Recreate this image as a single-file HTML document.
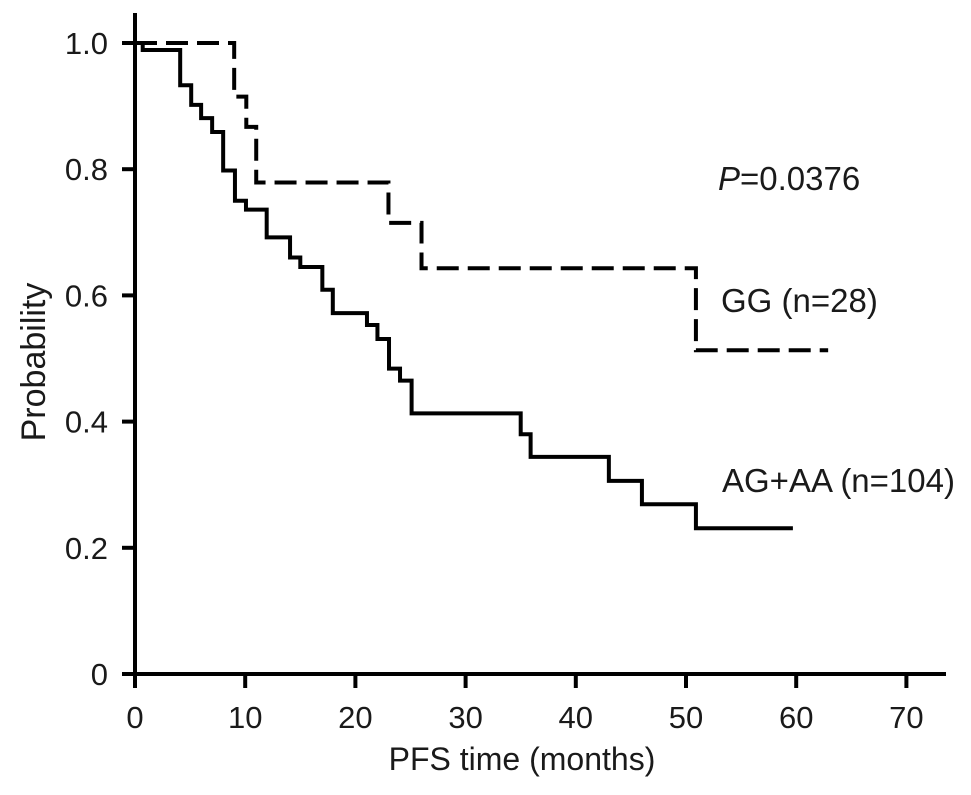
<!DOCTYPE html>
<html><head><meta charset="utf-8"><style>
html,body{margin:0;padding:0;background:#fff}
svg{display:block}
text{font-family:"Liberation Sans",Arial,sans-serif;fill:#1a1a1a}
</style></head><body>
<svg id="chart" width="971" height="795" viewBox="0 0 971 795" xmlns="http://www.w3.org/2000/svg"></svg>
<script>
const xTicks=[0,10,20,30,40,50,60,70];
const yTicks=[0,0.2,0.4,0.6,0.8,1.0];
const yTickLabels=["0","0.2","0.4","0.6","0.8","1.0"];
const ggTimes=[0,9,10.1,11,23,26,50.9,62.9];
const ggSurv=[1.0,0.915,0.867,0.779,0.715,0.643,0.513,0.513];
const agTimes=[0,0.7,4.1,5.1,6,7,8,9.07,10.07,11.95,14.07,15,17,17.95,21.05,22,23.05,24.05,25.1,35,35.9,43,46,50.9,59.7];
const agSurv=[1.0,0.989,0.933,0.902,0.881,0.859,0.798,0.750,0.736,0.692,0.660,0.645,0.609,0.572,0.553,0.531,0.484,0.465,0.413,0.380,0.344,0.306,0.269,0.231,0.231];

const svg=document.getElementById('chart');
const NS='http://www.w3.org/2000/svg';
const X=t=>135+t*11.02;
const Y=p=>674-p*631;
function mk(tag,attrs,txt){const e=document.createElementNS(NS,tag);for(const k in attrs)e.setAttribute(k,attrs[k]);if(txt!==undefined)e.textContent=txt;svg.appendChild(e);return e;}

let a=mk('line',{x1:135,y1:13,x2:135,y2:676,stroke:'#000','stroke-width':4});


a=mk('line',{x1:122,y1:674,x2:946,y2:674,stroke:'#000','stroke-width':4});



xTicks.forEach(t=>{
 const l=mk('line',{x1:X(t),y1:674,x2:X(t),y2:688,stroke:'#000','stroke-width':4});
 
 
 const tx=mk('text',{x:X(t),y:728,'font-size':31,'text-anchor':'middle'},String(t));
 
 
});
yTicks.forEach((p,i)=>{
 const l=mk('line',{x1:122,y1:Y(p),x2:135,y2:Y(p),stroke:'#000','stroke-width':4});
 
 
 const tx=mk('text',{x:108,y:Y(p)+11,'font-size':31,'text-anchor':'end'},yTickLabels[i]);
 
 
});

function stepPath(ts,ss){let d='M'+X(ts[0])+','+Y(ss[0]);for(let i=1;i<ts.length;i++){d+=' H'+X(ts[i])+' V'+Y(ss[i]);}return d;}
let p=mk('path',{d:stepPath(agTimes,agSurv),fill:'none',stroke:'#000','stroke-width':4,'stroke-linejoin':'miter'});


p=mk('path',{d:stepPath(ggTimes,ggSurv),fill:'none',stroke:'#000','stroke-width':4,'stroke-dasharray':'22,9'});



let t=mk('text',{x:718,y:190,'font-size':33});


t.innerHTML='<tspan font-style="italic">P</tspan>=0.0376';
t=mk('text',{x:721,y:312,'font-size':33},'GG (n=28)');


t=mk('text',{x:722,y:492,'font-size':33},'AG+AA (n=104)');


t=mk('text',{x:0,y:0,'font-size':34,'text-anchor':'middle',transform:'translate(45,362) rotate(-90)'},'Probability');


t=mk('text',{x:522,y:770,'font-size':32,'text-anchor':'middle'},'PFS time (months)');


</script>
</body></html>
